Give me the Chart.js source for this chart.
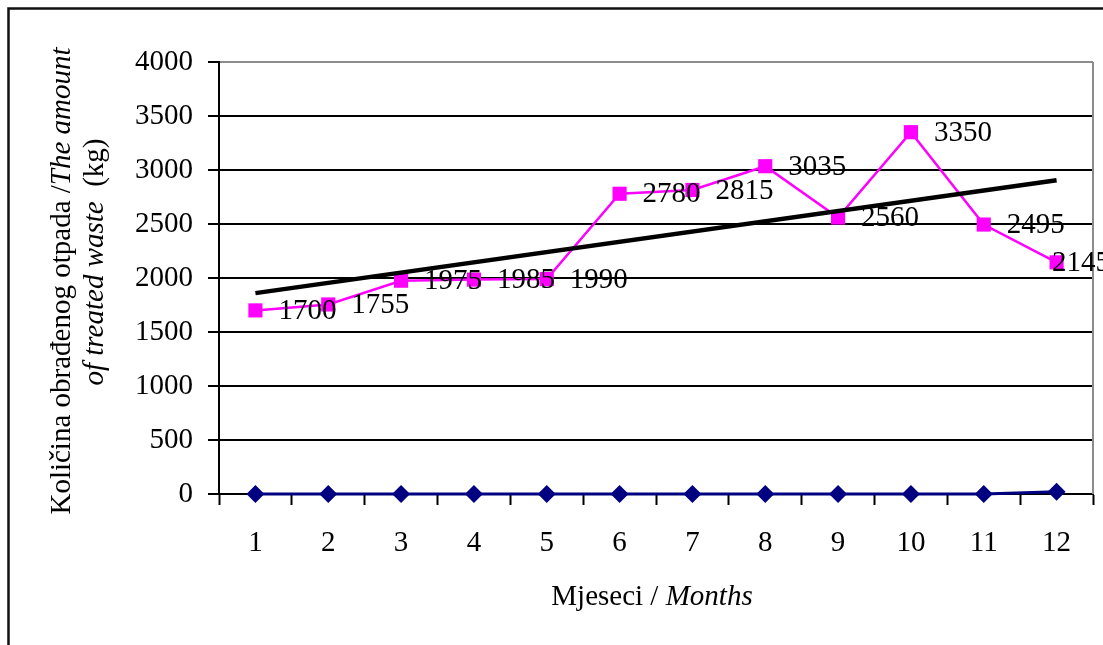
<!DOCTYPE html>
<html>
<head>
<meta charset="utf-8">
<script src="https://cdn.jsdelivr.net/npm/chart.js@4/dist/chart.umd.min.js"></script>
<style>
  html, body { margin: 0; padding: 0; background: #ffffff; }
  #wrap { width: 1103px; height: 645px; position: relative; }
</style>
</head>
<body>
<div id="wrap"><canvas id="c" width="1103" height="645"></canvas></div>
<script>
// Months 1–12
const months = ['1', '2', '3', '4', '5', '6', '7', '8', '9', '10', '11', '12'];
// Treated waste per month (kg)
const treatedWaste = [1700, 1755, 1975, 1985, 1990, 2780, 2815, 3035, 2560, 3350, 2495, 2145];
// Second series, near zero
const secondSeries = [0, 0, 0, 0, 0, 0, 0, 0, 0, 0, 0, 20];
// Linear trend endpoints (month 1 and month 12)
const trendEnds = [1860, 2905];
// Value axis ticks
const yTicks = [0, 500, 1000, 1500, 2000, 2500, 3000, 3500, 4000];

const SERIF = '"Liberation Serif", "Times New Roman", serif';

const trendData = months.map((m, i) => i === 0 ? trendEnds[0] : (i === months.length - 1 ? trendEnds[1] : null));

// Frame, plot border, axis titles and value labels
const decor = {
  id: 'decor',
  beforeDraw(chart) {
    const ctx = chart.ctx;
    ctx.save();
    ctx.fillStyle = '#ffffff';
    ctx.fillRect(0, 0, chart.width, chart.height);
    ctx.restore();
  },
  afterDraw(chart) {
    const ctx = chart.ctx;
    const a = chart.chartArea;
    ctx.save();
    // outer frame
    ctx.strokeStyle = '#111111';
    ctx.lineWidth = 2.5;
    ctx.strokeRect(8.5, 8.5, 1200, 800);
    // right plot border
    ctx.strokeStyle = '#8c8c8c';
    ctx.lineWidth = 2;
    ctx.beginPath();
    ctx.moveTo(a.right, a.top);
    ctx.lineTo(a.right, a.bottom);
    ctx.stroke();

    // mixed-style text helper
    function drawRuns(runs, cx, cy) {
      let total = 0;
      runs.forEach(r => { ctx.font = r.font; r.w = ctx.measureText(r.t).width; total += r.w; });
      let x = cx - total / 2;
      runs.forEach(r => { ctx.font = r.font; ctx.fillText(r.t, x, cy); x += r.w; });
    }
    ctx.fillStyle = '#000000';
    ctx.textBaseline = 'middle';
    ctx.textAlign = 'left';
    const reg = '29px ' + SERIF;
    const ita = 'italic 29px ' + SERIF;

    // x-axis title
    drawRuns([{ t: 'Mjeseci / ', font: reg }, { t: 'Months', font: ita }], 652, 597);

    // y-axis title (two rotated lines)
    ctx.save();
    ctx.translate(62, 281);
    ctx.rotate(-Math.PI / 2);
    drawRuns([{ t: 'Količina obrađenog otpada /', font: reg }, { t: 'The amount', font: ita }], 0, 0);
    ctx.restore();
    ctx.save();
    ctx.translate(95, 262);
    ctx.rotate(-Math.PI / 2);
    drawRuns([{ t: 'of treated waste', font: ita }, { t: '  (kg)', font: reg }], 0, 0);
    ctx.restore();

    // value labels right of each point, kept inside the frame
    const meta = chart.getDatasetMeta(0);
    ctx.font = '29px ' + SERIF;
    meta.data.forEach((pt, i) => {
      const txt = String(treatedWaste[i]);
      const w = ctx.measureText(txt).width;
      let x = pt.x + 23;
      if (x + w > 1110) x = 1110 - w;
      ctx.fillText(txt, x, pt.y + 1);
    });
    ctx.restore();
  }
};

new Chart(document.getElementById('c'), {
  type: 'line',
  data: {
    labels: months,
    datasets: [
      {
        label: 'Treated waste',
        data: treatedWaste,
        borderColor: '#ff00ff',
        backgroundColor: '#ff00ff',
        borderWidth: 2.5,
        pointStyle: 'rect',
        pointRadius: 10,
        pointBorderWidth: 0,
        tension: 0,
        clip: false,
        order: 2
      },
      {
        label: 'Second',
        data: secondSeries,
        borderColor: '#000080',
        backgroundColor: '#000080',
        borderWidth: 3,
        pointStyle: 'rectRot',
        pointRadius: 9,
        pointBorderWidth: 0,
        tension: 0,
        clip: false,
        order: 3
      },
      {
        label: 'Trend',
        data: trendData,
        borderColor: '#000000',
        borderWidth: 4.5,
        pointRadius: 0,
        spanGaps: true,
        tension: 0,
        clip: false,
        order: 1
      }
    ]
  },
  options: {
    responsive: false,
    animation: false,
    events: [],
    layout: { padding: { left: 0, top: 62, right: 10, bottom: 0 } },
    plugins: {
      legend: { display: false },
      tooltip: { enabled: false },
      title: { display: false }
    },
    scales: {
      x: {
        type: 'category',
        offset: true,
        grid: {
          offset: true,
          drawOnChartArea: false,
          drawTicks: true,
          tickLength: 11,
          tickWidth: 2,
          tickColor: '#000000'
        },
        border: { display: true, color: '#000000', width: 2 },
        ticks: {
          color: '#000000',
          font: { family: SERIF, size: 29 },
          padding: 21,
          maxRotation: 0,
          autoSkip: false
        },
        afterFit(scale) { scale.height = 151; }
      },
      y: {
        min: 0,
        max: 4000,
        afterBuildTicks(scale) { scale.ticks = yTicks.map(v => ({ value: v })); },
        grid: {
          color: ctx => (ctx.tick && ctx.tick.value === 4000) ? '#8c8c8c' : '#000000',
          lineWidth: 2,
          drawTicks: true,
          tickLength: 11,
          tickColor: '#000000',
          tickWidth: 2
        },
        border: { display: true, color: '#000000', width: 2 },
        ticks: {
          color: '#000000',
          font: { family: SERIF, size: 29 },
          padding: 15,
          callback: v => String(v)
        },
        afterFit(scale) { scale.width = 219; }
      }
    }
  },
  plugins: [decor]
});
</script>
</body>
</html>
